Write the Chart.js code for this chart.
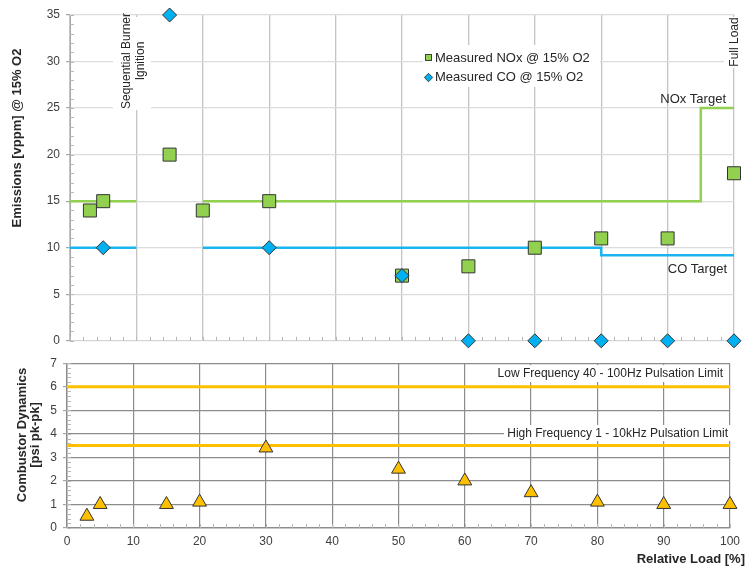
<!DOCTYPE html>
<html><head><meta charset="utf-8">
<script src="https://cdn.jsdelivr.net/npm/chart.js@4.4.0/dist/chart.umd.min.js"></script>
<style>
html,body{margin:0;padding:0;background:#fff;}
#wrap{position:relative;width:746px;height:569px;overflow:hidden;background:#fff;}
#top{position:absolute;left:0;top:0;z-index:1;}
#bot{position:absolute;left:0;top:350px;z-index:2;}
</style></head><body>
<div id="wrap"><canvas id="top" width="746" height="354"></canvas><canvas id="bot" width="746" height="219"></canvas></div>
<script>
// ---- data ----
const noxLoad = [3, 5, 15, 20, 30, 50, 60, 70, 80, 90, 100];
const noxValues = [14, 15, 20, 14, 15, 7, 8, 10, 11, 11, 18];
const coLoad = [5, 15, 30, 50, 60, 70, 80, 90, 100];
const coValues = [10, 35, 10, 7, 0, 0, 0, 0, 0];
const noxTargetLoad = [0, 10, 10, 20, 95, 95, 100];
const noxTargetValues = [15, 15, null, 15, 15, 25, 25];
const coTargetLoad = [0, 10, 10, 20, 80, 80, 100];
const coTargetValues = [10, 10, null, 10, 10, 9.2, 9.2];
const dynLoad = [3, 5, 15, 20, 30, 50, 60, 70, 80, 90, 100];
const dynValues = [0.5, 1, 1, 1.1, 3.4, 2.5, 2, 1.5, 1.1, 1, 1];
const limitLoad = [0, 100];
const lowFreqLimit = [6, 6];
const highFreqLimit = [3.5, 3.5];
const loadTicks = [0, 10, 20, 30, 40, 50, 60, 70, 80, 90, 100];
const emissionTicks = [0, 5, 10, 15, 20, 25, 30, 35];
const dynamicsTicks = [0, 1, 2, 3, 4, 5, 6, 7];

const pts = (xs, ys) => xs.map((x, i) => ({x: x, y: ys[i]}));
const FONT = "'Liberation Sans', Arial, sans-serif";
const TXT = '#262626';

function setTicks(arr) {
  return function (scale) { scale.ticks = arr.map(v => ({value: v})); };
}

function minorTicks(chart, xStep, yStep, len, color) {
  const ctx = chart.ctx, a = chart.chartArea;
  const xs = chart.scales.x, ys = chart.scales.y;
  ctx.save();
  ctx.strokeStyle = color; ctx.lineWidth = 1;
  ctx.beginPath();
  for (let v = xs.min; v <= xs.max + 1e-9; v += xStep) {
    const p = Math.round(xs.getPixelForValue(v)) + 0.5;
    ctx.moveTo(p, a.bottom); ctx.lineTo(p, a.bottom - len);
  }
  for (let v = ys.min; v <= ys.max + 1e-9; v += yStep) {
    const p = Math.round(ys.getPixelForValue(v)) + 0.5;
    ctx.moveTo(a.left, p); ctx.lineTo(a.left + len, p);
  }
  ctx.stroke();
  ctx.restore();
}

function text(ctx, str, x, y, font, align, rot) {
  ctx.save();
  ctx.font = font; ctx.fillStyle = TXT;
  ctx.textAlign = align || 'left'; ctx.textBaseline = 'middle';
  ctx.translate(x, y);
  if (rot) ctx.rotate(rot);
  ctx.fillText(str, 0, 0);
  ctx.restore();
}
function whiteBox(ctx, x0, y0, x1, y1) {
  ctx.save(); ctx.fillStyle = '#fff'; ctx.fillRect(x0, y0, x1 - x0, y1 - y0); ctx.restore();
}

const topPlugin = {
  id: 'topDecor',
  beforeDatasetsDraw(chart) {
    const ctx = chart.ctx;
    minorTicks(chart, 2, 1, 4, '#b8b8b8');
    whiteBox(ctx, 113, 17, 151, 110);   // Sequential burner label
    whiteBox(ctx, 423, 45, 600, 87);    // legend
    whiteBox(ctx, 724, 17, 746, 68);    // Full load label
  },
  afterDatasetsDraw(chart) {
    const ctx = chart.ctx;
    const R = -Math.PI / 2;
    text(ctx, 'Emissions [vppm] @ 15% O2', 17, 138, 'bold 13px ' + FONT, 'center', R);
    text(ctx, 'Sequential Burner', 127, 61, '12px ' + FONT, 'center', R);
    text(ctx, 'Ignition', 141, 61, '12px ' + FONT, 'center', R);
    text(ctx, 'Full Load', 735, 42, '12px ' + FONT, 'center', R);
    text(ctx, 'NOx Target', 726, 99, '13px ' + FONT, 'right');
    text(ctx, 'CO Target', 727, 269, '13px ' + FONT, 'right');
    // legend
    ctx.save();
    ctx.lineWidth = 1; ctx.strokeStyle = '#404040';
    ctx.fillStyle = '#92d050';
    ctx.fillRect(425, 54, 7, 7); ctx.strokeRect(425.5, 54.5, 6, 6);
    ctx.fillStyle = '#00b0f0'; ctx.strokeStyle = '#404040'; ctx.lineWidth = 1;
    Chart.helpers.drawPoint(ctx, {pointStyle: 'rectRot', radius: 4.2, borderWidth: 1}, 428.5, 77.5);
    ctx.restore();
    text(ctx, 'Measured NOx @ 15% O2', 435, 58, '13px ' + FONT, 'left');
    text(ctx, 'Measured CO @ 15% O2', 435, 77, '13px ' + FONT, 'left');
  }
};

const botPlugin = {
  id: 'botDecor',
  beforeDatasetsDraw(chart) {
    const ctx = chart.ctx;
    minorTicks(chart, 2, 0.2, 4, '#b8b8b8');
    whiteBox(ctx, 497, 15, 727, 32);
    whiteBox(ctx, 504, 75, 732, 91);
  },
  afterDatasetsDraw(chart) {
    const ctx = chart.ctx;
    const R = -Math.PI / 2;
    text(ctx, 'Combustor Dynamics', 22, 85, 'bold 13px ' + FONT, 'center', R);
    text(ctx, '[psi pk-pk]', 35, 85, 'bold 13px ' + FONT, 'center', R);
    text(ctx, 'Relative Load [%]', 745, 209, 'bold 13px ' + FONT, 'right');
    text(ctx, 'Low Frequency 40 - 100Hz Pulsation Limit', 723, 24, '12px ' + FONT, 'right');
    text(ctx, 'High Frequency 1 - 10kHz Pulsation Limit', 728, 84, '12px ' + FONT, 'right');
  }
};

Chart.defaults.font.family = FONT;
Chart.defaults.color = '#404040';

new Chart(document.getElementById('top'), {
  type: 'scatter',
  data: {
    datasets: [
      {label: 'Measured CO @ 15% O2', data: pts(coLoad, coValues), pointStyle: 'rectRot', pointRadius: 7,
       backgroundColor: '#00b0f0', borderColor: '#333', borderWidth: 1, clip: false},
      {label: 'Measured NOx @ 15% O2', data: pts(noxLoad, noxValues), pointStyle: 'rect', pointRadius: 9.2,
       backgroundColor: '#92d050', borderColor: '#333', borderWidth: 1, clip: false},
      {label: 'NOx Target', data: pts(noxTargetLoad, noxTargetValues), showLine: true, pointRadius: 0,
       borderColor: '#92d050', borderWidth: 2.5, spanGaps: false, clip: false},
      {label: 'CO Target', data: pts(coTargetLoad, coTargetValues), showLine: true, pointRadius: 0,
       borderColor: '#1ab4f0', borderWidth: 2.5, spanGaps: false, clip: false}
    ]
  },
  options: {
    responsive: false, animation: false, devicePixelRatio: 1,
    layout: {padding: {top: 15, right: 12, bottom: 0, left: 0}},
    plugins: {legend: {display: false}, tooltip: {enabled: false}},
    scales: {
      x: {type: 'linear', min: 0, max: 100, afterBuildTicks: setTicks(loadTicks),
          ticks: {display: false}, grid: {color: '#c4c4c4', lineWidth: 1.3, drawTicks: false},
          border: {color: '#d4d4d4'}, afterFit: s => { s.height = 6; }},
      y: {min: 0, max: 35, afterBuildTicks: setTicks(emissionTicks),
          ticks: {font: {size: 12}, color: '#404040', padding: 6},
          grid: {color: '#dcdcdc', lineWidth: 1.2, tickColor: '#a6a6a6', tickLength: 4},
          border: {color: '#a6a6a6'}, afterFit: s => { s.width = 70; }}
    }
  },
  plugins: [topPlugin]
});

new Chart(document.getElementById('bot'), {
  type: 'scatter',
  data: {
    datasets: [
      {label: 'Combustor Dynamics', data: pts(dynLoad, dynValues), pointStyle: 'triangle', pointRadius: 8,
       backgroundColor: '#ffc000', borderColor: '#333', borderWidth: 1, clip: false},
      {label: 'Low Frequency 40 - 100Hz Pulsation Limit', data: pts(limitLoad, lowFreqLimit), showLine: true,
       pointRadius: 0, borderColor: '#ffc000', borderWidth: 3, clip: false},
      {label: 'High Frequency 1 - 10kHz Pulsation Limit', data: pts(limitLoad, highFreqLimit), showLine: true,
       pointRadius: 0, borderColor: '#ffc000', borderWidth: 3, clip: false}
    ]
  },
  options: {
    responsive: false, animation: false, devicePixelRatio: 1,
    layout: {padding: {top: 10, right: 10, bottom: 0, left: 0}},
    plugins: {legend: {display: false}, tooltip: {enabled: false}},
    scales: {
      x: {type: 'linear', min: 0, max: 100, afterBuildTicks: setTicks(loadTicks),
          ticks: {font: {size: 12}, color: '#404040', padding: 6},
          grid: {color: '#8c8c8c', lineWidth: 1.2, drawTicks: false},
          border: {color: '#c8c8c8'}, afterFit: s => { s.height = 41; }},
      y: {min: 0, max: 7, afterBuildTicks: setTicks(dynamicsTicks),
          ticks: {font: {size: 12}, color: '#404040', padding: 6},
          grid: {color: '#8c8c8c', lineWidth: 1.2, tickColor: '#a6a6a6', tickLength: 4},
          border: {color: '#c0c0c0'}, afterFit: s => { s.width = 67; }}
    }
  },
  plugins: [botPlugin]
});
</script>
</body></html>
